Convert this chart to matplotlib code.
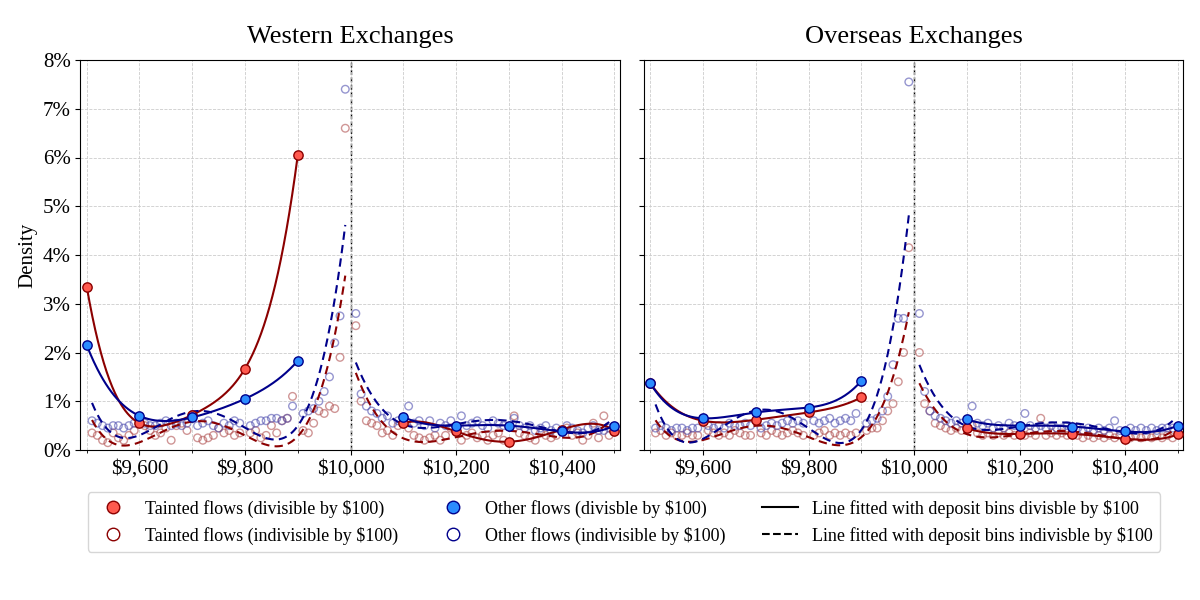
import numpy as np
import matplotlib.pyplot as plt
from matplotlib.lines import Line2D
from matplotlib.ticker import FuncFormatter, MultipleLocator

plt.rcParams['font.family'] = ['Liberation Serif', 'DejaVu Serif']

# ---- data (density, %) ----
div_x_left = [9500, 9600, 9700, 9800, 9900]
div_x_right = [10100, 10200, 10300, 10400, 10500]
ind_x_left = [x for x in range(9510, 10000, 10) if x % 100]
ind_x_right = [x for x in range(10010, 10500, 10) if x % 100]

west_red_div = [3.35, 0.55, 0.72, 1.67, 6.05, 0.55, 0.38, 0.17, 0.42, 0.40]
west_blue_div = [2.15, 0.70, 0.67, 1.05, 1.83, 0.68, 0.50, 0.50, 0.38, 0.50]
over_red_div = [1.37, 0.60, 0.62, 0.77, 1.08, 0.45, 0.33, 0.33, 0.23, 0.32]
over_blue_div = [1.37, 0.65, 0.77, 0.87, 1.42, 0.63, 0.50, 0.48, 0.38, 0.50]

west_red_ind = [
    0.35, 0.30, 0.20, 0.15, 0.35, 0.25, 0.20, 0.30, 0.40,
    0.50, 0.40, 0.30, 0.35, 0.45, 0.20, 0.50, 0.55, 0.40,
    0.25, 0.20, 0.25, 0.30, 0.45, 0.35, 0.40, 0.30, 0.35,
    0.35, 0.40, 0.25, 0.30, 0.50, 0.35, 0.60, 0.65, 1.10,
    0.40, 0.35, 0.55, 0.80, 0.75, 0.90, 0.85, 1.90, 6.60,
    2.55, 1.00, 0.60, 0.55, 0.50, 0.35, 0.40, 0.30, 0.50,
    0.45, 0.30, 0.25, 0.20, 0.25, 0.30, 0.20, 0.30, 0.45,
    0.20, 0.30, 0.35, 0.25, 0.30, 0.20, 0.30, 0.35, 0.20,
    0.70, 0.35, 0.30, 0.25, 0.20, 0.35, 0.30, 0.25, 0.30,
    0.45, 0.30, 0.35, 0.20, 0.30, 0.55, 0.25, 0.70, 0.30,
]
west_blue_ind = [
    0.60, 0.55, 0.50, 0.45, 0.50, 0.50, 0.45, 0.50, 0.55,
    0.55, 0.50, 0.50, 0.55, 0.60, 0.50, 0.55, 0.50, 0.55,
    0.50, 0.55, 0.60, 0.50, 0.45, 0.55, 0.50, 0.60, 0.55,
    0.50, 0.55, 0.60, 0.60, 0.65, 0.65, 0.60, 0.65, 0.90,
    0.75, 0.80, 0.85, 1.00, 1.20, 1.50, 2.20, 2.75, 7.40,
    2.80, 1.15, 0.90, 0.80, 0.75, 0.65, 0.70, 0.55, 0.60,
    0.90, 0.55, 0.60, 0.50, 0.60, 0.45, 0.55, 0.50, 0.60,
    0.70, 0.50, 0.55, 0.60, 0.50, 0.45, 0.60, 0.55, 0.50,
    0.65, 0.50, 0.45, 0.50, 0.40, 0.45, 0.50, 0.40, 0.45,
    0.50, 0.45, 0.40, 0.35, 0.45, 0.50, 0.40, 0.40, 0.45,
]
over_red_ind = [
    0.35, 0.40, 0.30, 0.35, 0.30, 0.30, 0.35, 0.30, 0.30,
    0.40, 0.35, 0.30, 0.35, 0.30, 0.40, 0.35, 0.30, 0.30,
    0.35, 0.30, 0.40, 0.35, 0.30, 0.35, 0.40, 0.35, 0.30,
    0.30, 0.35, 0.40, 0.30, 0.35, 0.30, 0.35, 0.30, 0.35,
    0.40, 0.45, 0.45, 0.60, 0.80, 0.95, 1.40, 2.00, 4.15,
    2.00, 0.95, 0.80, 0.55, 0.50, 0.45, 0.40, 0.45, 0.40,
    0.50, 0.35, 0.30, 0.35, 0.30, 0.35, 0.30, 0.35, 0.30,
    0.30, 0.35, 0.30, 0.65, 0.30, 0.35, 0.30, 0.35, 0.30,
    0.30, 0.25, 0.30, 0.25, 0.30, 0.25, 0.30, 0.25, 0.30,
    0.25, 0.30, 0.25, 0.30, 0.25, 0.30, 0.25, 0.30, 0.25,
]
over_blue_ind = [
    0.45, 0.50, 0.45, 0.40, 0.45, 0.45, 0.40, 0.45, 0.45,
    0.50, 0.45, 0.50, 0.45, 0.55, 0.50, 0.50, 0.55, 0.50,
    0.45, 0.50, 0.55, 0.50, 0.55, 0.60, 0.55, 0.60, 0.55,
    0.60, 0.55, 0.60, 0.65, 0.55, 0.60, 0.65, 0.60, 0.75,
    0.55, 0.60, 0.65, 0.80, 1.10, 1.75, 2.70, 2.70, 7.55,
    2.80, 1.20, 0.80, 0.70, 0.65, 0.60, 0.55, 0.60, 0.55,
    0.90, 0.55, 0.50, 0.55, 0.45, 0.50, 0.45, 0.55, 0.50,
    0.75, 0.50, 0.45, 0.50, 0.45, 0.50, 0.45, 0.45, 0.50,
    0.45, 0.40, 0.45, 0.40, 0.45, 0.40, 0.45, 0.60, 0.40,
    0.45, 0.40, 0.45, 0.40, 0.45, 0.40, 0.45, 0.45, 0.45,
]

panels = [
    ('Western Exchanges', west_red_div, west_blue_div, west_red_ind, west_blue_ind),
    ('Overseas Exchanges', over_red_div, over_blue_div, over_red_ind, over_blue_ind),
]

RED_FILL, RED_LINE, RED_HOLLOW = '#ff5a4f', '#8b0000', '#b05050'
BLUE_FILL, BLUE_LINE, BLUE_HOLLOW = '#2b8cff', '#00008b', '#5050b0'


def fit_line(ax, xs, ys, deg, color, ls):
    xs = np.asarray(xs, float)
    c = np.polyfit(xs - xs.mean(), ys, deg)
    xx = np.linspace(xs.min(), xs.max(), 300)
    ax.plot(xx, np.polyval(c, xx - xs.mean()), color=color, ls=ls, lw=1.5, zorder=3)


fig, axes = plt.subplots(1, 2, figsize=(12, 6), dpi=100, sharey=True)
n = len(ind_x_left)
for ax, (title, rd, bd, ri, bi) in zip(axes, panels):
    for ind, div, hol, fill, line in [(ri, rd, RED_HOLLOW, RED_FILL, RED_LINE),
                                      (bi, bd, BLUE_HOLLOW, BLUE_FILL, BLUE_LINE)]:
        ax.scatter(ind_x_left + ind_x_right, ind, s=30, facecolors='none',
                   edgecolors=hol, alpha=0.6, lw=1, zorder=2)
        fit_line(ax, ind_x_left, ind[:n], 4, line, (0, (4, 2.5)))
        fit_line(ax, ind_x_right, ind[n:], 4, line, (0, (4, 2.5)))
        fit_line(ax, div_x_left, div[:5], 4, line, '-')
        fit_line(ax, div_x_right, div[5:], 4, line, '-')
        ax.scatter(div_x_left + div_x_right, div, s=45, color=fill,
                   edgecolors=line, lw=1, zorder=4)
    ax.axvline(10000, color='black', ls='--', lw=1, zorder=1)
    ax.set_xlim(9488, 10510)
    ax.set_ylim(0, 8)
    ax.xaxis.set_minor_locator(MultipleLocator(100))
    ax.set_xticks(range(9600, 10401, 200))
    ax.xaxis.set_major_formatter(FuncFormatter(lambda v, p: f'${v:,.0f}'))
    ax.yaxis.set_major_formatter(FuncFormatter(lambda v, p: f'{v:.0f}%'))
    ax.grid(True, which='both', ls='--', color='#cccccc', lw=0.6)
    ax.tick_params(labelsize=15)
    ax.set_title(title, fontsize=19, pad=12)
axes[0].set_ylabel('Density', fontsize=15)

handles = [
    Line2D([], [], marker='o', ls='none', ms=9, mfc=RED_FILL, mec=RED_LINE),
    Line2D([], [], marker='o', ls='none', ms=9, mfc='none', mec=RED_LINE),
    Line2D([], [], marker='o', ls='none', ms=9, mfc=BLUE_FILL, mec=BLUE_LINE),
    Line2D([], [], marker='o', ls='none', ms=9, mfc='none', mec=BLUE_LINE),
    Line2D([], [], color='black', lw=1.5),
    Line2D([], [], color='black', lw=1.5, ls='--'),
]
labels = [
    'Tainted flows (divisible by $100)',
    'Tainted flows (indivisible by $100)',
    'Other flows (divisble by $100)',
    'Other flows (indivisible by $100)',
    'Line fitted with deposit bins divisble by $100',
    'Line fitted with deposit bins indivisble by $100',
]
fig.legend(handles, labels, ncol=3, loc='lower center', bbox_to_anchor=(0.52, 0.065),
           fontsize=13, frameon=True, edgecolor='#cccccc')
fig.subplots_adjust(left=0.067, right=0.986, top=0.9, bottom=0.25, wspace=0.045)
fig.savefig('out.png')
